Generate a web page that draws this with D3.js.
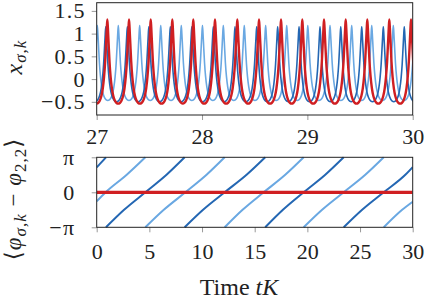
<!DOCTYPE html>
<html>
<head>
<meta charset="utf-8">
<script src="https://cdn.jsdelivr.net/npm/d3@7"></script>
<style>
  body { margin: 0; background: #fff; }
  svg { display: block; }
  text { font-family: "Liberation Serif", "DejaVu Serif", serif; fill: #222; }
</style>
</head>
<body>
<script>
// peak times of the spikes
var lightPeaks = [27.006, 27.205, 27.408, 27.608, 27.803, 28.004, 28.202, 28.401, 28.604, 28.804, 29.004, 29.215, 29.421, 29.611, 29.816, 30.02];
var darkPeaks = [27.086, 27.291, 27.495, 27.699, 27.903, 28.107, 28.313, 28.519, 28.718, 28.921, 29.120, 29.317, 29.516, 29.721, 29.920, 30.12];
var redPeaks = [27.101, 27.307, 27.513, 27.718, 27.917, 28.123, 28.335, 28.541, 28.750, 28.952, 29.158, 29.364, 29.569, 29.778, 29.984];

// spike heights and troughs
var lightRange = [-0.47, 1.18];
var darkRange = [-0.5, 1.15];
var redRange = [-0.54, 1.31];

// shape of one spike flank: fraction of the half gap -> fraction of the height
var pulseS = [0, 0.05, 0.12, 0.2, 0.3, 0.42, 0.55, 0.7, 0.85, 1];
var pulseU = [1, 0.9, 0.71, 0.5, 0.32, 0.18, 0.09, 0.035, 0.008, 0];

// phase differences (in units of pi), one array per wrap
var darkPhase = [
  [[0, 0.71], [0.88, 1]],
  [[0.88, -1], [2.6, -0.5], [4.62, 0], [6.63, 0.5], [8.35, 1]],
  [[8.35, -1], [10.1, -0.5], [12.15, 0], [14.23, 0.5], [16.0, 1]],
  [[16.0, -1], [17.68, -0.5], [19.65, 0], [21.7, 0.5], [23.45, 1]],
  [[23.45, -1], [25.2, -0.5], [27.25, 0], [29.3, 0.5], [30, 0.72]]
];
var lightPhase = [
  [[0, -0.26], [0.85, 0], [2.85, 0.5], [4.62, 1]],
  [[4.62, -1], [6.37, -0.5], [8.42, 0], [10.43, 0.5], [12.15, 1]],
  [[12.15, -1], [13.85, -0.5], [15.85, 0], [17.9, 0.5], [19.65, 1]],
  [[19.65, -1], [21.4, -0.5], [23.45, 0], [25.5, 0.5], [27.25, 1]],
  [[27.25, -1], [29.0, -0.5], [30, -0.27]]
];
var redPhase = [[[0, 0], [30, 0]]];

var topTicksX = [27, 28, 29, 30];
var topTicksY = [-0.5, 0, 0.5, 1, 1.5];
var botTicksX = [0, 5, 10, 15, 20, 25, 30];
var botTicksY = [-1, 0, 1];

var lightBlue = "#6aa8e2";
var darkBlue = "#2467b3";
var red = "#d01f22";

var svg = d3.select("body").append("svg")
  .attr("width", 425)
  .attr("height", 300);

var xTop = d3.scaleLinear().domain([27, 30]).range([96.7, 412.7]);
var yTop = d3.scaleLinear().domain([-0.79, 1.68]).range([115, 2.7]);
var xBot = d3.scaleLinear().domain([0, 30]).range([96.7, 412.7]);
var yBot = d3.scaleLinear().domain([-1, 1]).range([227.3, 157.3]);

// builds the spike train from the peak times
function pulsePoints(peaks, range) {
  var low = range[0], high = range[1];
  var pts = [];
  peaks.forEach(function (p, i) {
    var left = i > 0 ? (p - peaks[i - 1]) / 2 : (peaks[1] - p) / 2;
    var right = i < peaks.length - 1 ? (peaks[i + 1] - p) / 2 : (p - peaks[i - 1]) / 2;
    for (var j = pulseS.length - 1; j > 0; j--) {
      pts.push([p - pulseS[j] * left, low + pulseU[j] * (high - low)]);
    }
    pts.push([p, high]);
    var last = i === peaks.length - 1 ? pulseS.length : pulseS.length - 1;
    for (j = 1; j < last; j++) {
      pts.push([p + pulseS[j] * right, low + pulseU[j] * (high - low)]);
    }
  });
  return pts;
}

// top panel
svg.append("clipPath").attr("id", "clipTop")
  .append("rect")
  .attr("x", xTop(27)).attr("y", yTop(1.68))
  .attr("width", xTop(30) - xTop(27)).attr("height", yTop(-0.79) - yTop(1.68));

var topLine = d3.line()
  .x(function (d) { return xTop(d[0]); })
  .y(function (d) { return yTop(d[1]); })
  .curve(d3.curveMonotoneX);

var gTop = svg.append("g").attr("clip-path", "url(#clipTop)");
[[lightPeaks, lightRange, lightBlue, 1.6],
 [darkPeaks, darkRange, darkBlue, 1.6],
 [redPeaks, redRange, red, 2.4]].forEach(function (s) {
  gTop.append("path")
    .attr("d", topLine(pulsePoints(s[0], s[1])))
    .attr("fill", "none")
    .attr("stroke", s[2])
    .attr("stroke-width", s[3])
    .attr("stroke-linejoin", "round");
});

// bottom panel
svg.append("clipPath").attr("id", "clipBot")
  .append("rect")
  .attr("x", xBot(0)).attr("y", yBot(1) - 1)
  .attr("width", xBot(30) - xBot(0)).attr("height", yBot(-1) - yBot(1) + 2);

var botLine = d3.line()
  .x(function (d) { return xBot(d[0]); })
  .y(function (d) { return yBot(d[1]); })
  .curve(d3.curveMonotoneX);

var gBot = svg.append("g").attr("clip-path", "url(#clipBot)");
[[lightPhase, lightBlue, 2], [darkPhase, darkBlue, 2], [redPhase, red, 3.2]].forEach(function (s) {
  s[0].forEach(function (seg) {
    gBot.append("path")
      .attr("d", botLine(seg))
      .attr("fill", "none")
      .attr("stroke", s[1])
      .attr("stroke-width", s[2])
      .attr("stroke-linecap", "butt");
  });
});

// axes
function fmt(v) { return String(v).replace("-", "\u2212"); }
function piFmt(v) { return v === 0 ? "0" : (v < 0 ? "\u2212\u03c0" : "\u03c0"); }

function styleAxis(g, spacing) {
  g.attr("font-family", null).attr("font-size", null);
  g.select(".domain").remove();
  g.selectAll(".tick line").attr("stroke", "#999");
  g.selectAll("text").attr("font-size", 22).attr("fill", "#222")
    .attr("letter-spacing", spacing || 0);
}

svg.append("g").attr("transform", "translate(0,115)")
  .call(d3.axisBottom(xTop).tickValues(topTicksX).tickSize(5).tickPadding(8).tickFormat(fmt))
  .call(styleAxis, 0);
svg.append("g").attr("transform", "translate(96.7,0)")
  .call(d3.axisLeft(yTop).tickValues(topTicksY).tickSize(5).tickPadding(6).tickFormat(fmt))
  .call(styleAxis, 1.2);
svg.append("g").attr("transform", "translate(0,227.3)")
  .call(d3.axisBottom(xBot).tickValues(botTicksX).tickSize(5).tickPadding(11).tickFormat(fmt))
  .call(styleAxis, 0);
svg.append("g").attr("transform", "translate(96.7,0)")
  .call(d3.axisLeft(yBot).tickValues(botTicksY).tickSize(5).tickPadding(16).tickFormat(piFmt))
  .call(styleAxis, 1.5);

// frames
svg.append("rect")
  .attr("x", xTop(27)).attr("y", yTop(1.68))
  .attr("width", xTop(30) - xTop(27)).attr("height", yTop(-0.79) - yTop(1.68))
  .attr("fill", "none").attr("stroke", "#222").attr("stroke-width", 1);
svg.append("rect")
  .attr("x", xBot(0)).attr("y", yBot(1))
  .attr("width", xBot(30) - xBot(0)).attr("height", yBot(-1) - yBot(1))
  .attr("fill", "none").attr("stroke", "#222").attr("stroke-width", 1);

// axis titles
var yl1 = svg.append("text")
  .attr("transform", "translate(22,57) rotate(-90)")
  .attr("text-anchor", "middle")
  .attr("font-size", 24)
  .attr("letter-spacing", 1);
yl1.append("tspan").attr("font-style", "italic").text("x");
yl1.append("tspan").attr("font-style", "italic").attr("font-size", 17).attr("dy", 4).text("\u03c3,k");

var yl2 = svg.append("text")
  .attr("transform", "translate(21,199) rotate(-90)")
  .attr("text-anchor", "middle")
  .attr("font-size", 23)
  .attr("letter-spacing", 1);
yl2.append("tspan").text("\u27e8");
yl2.append("tspan").attr("font-style", "italic").text("\u03c6");
yl2.append("tspan").attr("font-style", "italic").attr("font-size", 17).attr("dy", 5).text("\u03c3,k");
yl2.append("tspan").attr("dy", -5).text(" \u2212 ");
yl2.append("tspan").attr("font-style", "italic").text("\u03c6");
yl2.append("tspan").attr("font-size", 17).attr("dy", 5).text("2,2");
yl2.append("tspan").attr("dy", -5).text("\u27e9");

var xl = svg.append("text")
  .attr("x", 239).attr("y", 295)
  .attr("text-anchor", "middle")
  .attr("font-size", 24);
xl.append("tspan").text("Time ");
xl.append("tspan").attr("font-style", "italic").text("tK");
</script>
</body>
</html>
